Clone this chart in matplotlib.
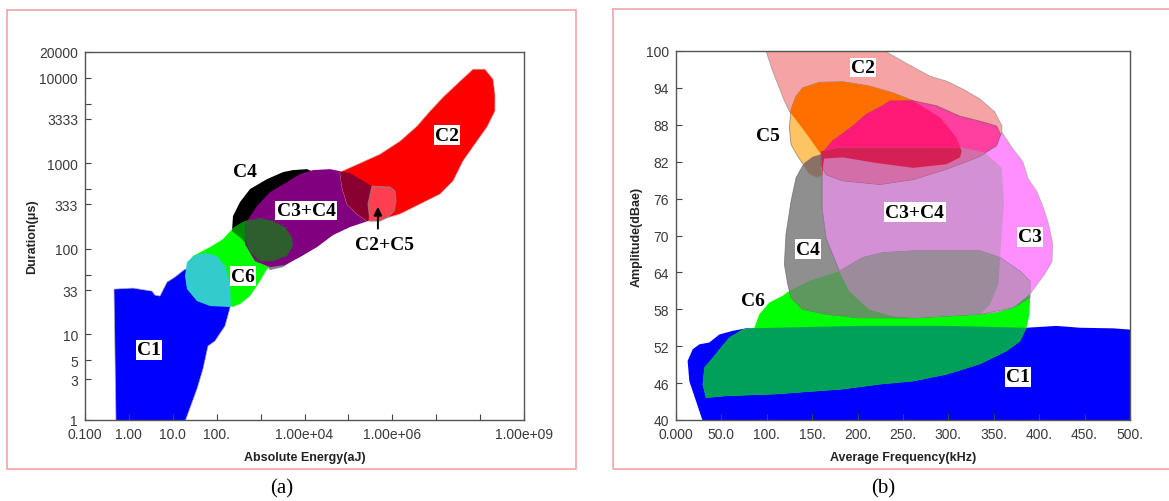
import numpy as np
import matplotlib.pyplot as plt
from matplotlib.patches import Polygon, Rectangle
from matplotlib.ticker import FixedLocator, FixedFormatter, NullLocator

# ---------------- panel (a): log10(energy aJ) / log10(duration us) outlines ----------------
A_C1_LOGE = [-0.339, 0.093, 0.526, 0.595, 0.708, 0.868, 1.050, 1.278, 1.961, 2.303, 2.303,
             2.189, 1.961, 1.802, 1.688, 1.551, 1.278, -0.294]
A_C1_LOGD = [1.530, 1.542, 1.507, 1.460, 1.449, 1.612, 1.671, 1.764, 1.706, 1.414, 1.308,
             1.098, 0.923, 0.864, 0.596, 0.362, -0.02, -0.02]

A_CYAN_LOGE = [1.323, 1.506, 1.779, 2.007, 2.189, 2.303, 2.326, 1.847, 1.551, 1.323, 1.278]
A_CYAN_LOGD = [1.846, 1.928, 1.951, 1.916, 1.799, 1.612, 1.320, 1.332, 1.390, 1.530, 1.682]

A_C6_LOGE = [1.346, 1.460, 1.847, 2.144, 2.371, 2.645, 3.100, 3.442, 3.670, 3.556, 3.146,
             2.986, 2.759, 2.531, 2.349, 2.189, 1.847, 1.392]
A_C6_LOGD = [1.846, 1.916, 2.021, 2.114, 2.243, 2.325, 2.371, 2.301, 2.114, 1.904, 1.764,
             1.624, 1.449, 1.355, 1.320, 1.414, 1.530, 1.706]

A_C4_LOGE = [2.349, 2.371, 2.531, 2.759, 3.146, 3.510, 3.738, 4.057, 4.308, 4.125, 3.784,
             3.624, 3.442, 3.214, 2.872, 2.576]
A_C4_LOGD = [2.208, 2.383, 2.547, 2.699, 2.815, 2.897, 2.921, 2.932, 2.874, 2.582, 2.231,
             1.998, 1.904, 1.857, 1.939, 2.114]

A_GREY_LOGE = [3.169, 3.442, 3.738, 3.715, 3.510, 3.214]
A_GREY_LOGD = [1.787, 1.857, 1.928, 1.857, 1.787, 1.752]

A_C34_LOGE = [2.645, 2.918, 3.214, 3.601, 3.897, 4.194, 4.581, 5.036, 5.538, 5.515, 5.446,
              5.036, 4.649, 4.285, 3.897, 3.556, 3.214, 2.872, 2.645]
A_C34_LOGD = [2.290, 2.500, 2.664, 2.780, 2.874, 2.921, 2.932, 2.886, 2.734, 2.523, 2.325,
              2.255, 2.161, 2.021, 1.904, 1.811, 1.787, 1.857, 2.056]

A_DKG_LOGE = [2.645, 2.986, 3.282, 3.556, 3.715, 3.738, 3.601, 3.282, 2.986, 2.759, 2.645]
A_DKG_LOGD = [2.325, 2.360, 2.325, 2.255, 2.138, 2.033, 1.916, 1.857, 1.857, 1.963, 2.114]

A_C2_LOGE = [4.809, 5.219, 5.720, 6.175, 6.563, 6.859, 7.155, 7.542, 7.838, 8.112, 8.294,
             8.339, 8.339, 8.157, 7.929, 7.610, 7.383, 7.087, 6.631, 6.175, 5.788, 5.538,
             5.424, 5.196, 4.968, 4.854]
A_C2_LOGD = [2.897, 2.991, 3.107, 3.259, 3.435, 3.610, 3.773, 3.960, 4.100, 4.100, 3.984,
             3.808, 3.610, 3.423, 3.259, 3.026, 2.792, 2.640, 2.523, 2.407, 2.348, 2.325,
             2.325, 2.407, 2.523, 2.722]

A_C5_LOGE = [5.538, 5.948, 6.062, 6.084, 6.039, 5.902, 5.720, 5.492, 5.446]
A_C5_LOGD = [2.734, 2.722, 2.675, 2.558, 2.442, 2.371, 2.325, 2.325, 2.523]

A_LABEL_TEXT = ["C1", "C6", "C4", "C3+C4", "C2", "C2+C5"]
A_LABEL_E = [2.87, 397, 441, 1.08e4, 1.76e7, 6.8e5]
A_LABEL_D = [6.6, 48, 811, 280, 2135, 114]
A_LABEL_BOX = [True, True, False, True, True, False]

A_XTICKS = [0.1, 1, 10, 100, 1e3, 1e4, 1e5, 1e6, 1e7, 1e8, 1e9]
A_XTICKLABELS = ["0.100", "1.00", "10.0", "100.", "", "1.00e+04", "", "1.00e+06", "", "", "1.00e+09"]
A_YTICKS = [1, 3, 5, 10, 33, 50, 100, 333, 500, 1000, 3333, 5000, 10000, 20000]
A_YTICKLABELS = ["1", "3", "5", "10", "33", "", "100", "333", "", "1000", "3333", "", "10000", "20000"]

# ---------------- panel (b): frequency kHz / amplitude dB outlines ----------------
B_C1_F = [29, 22, 14.7, 12.8, 18.4, 25.7, 36.7, 47.7, 62.4, 77.1, 200, 300, 386, 419, 445, 482, 500, 500]
B_C1_A = [40, 43.1, 46.3, 49.6, 51.5, 52.3, 52.6, 53.9, 54.5, 54.9, 55.3, 55.3, 55.0, 55.3, 55.0, 54.9, 54.7, 40]

B_C6_F = [86.3, 91.8, 102.8, 117.5, 124.8, 146.8, 179.9, 250, 330, 388, 390, 389, 386, 379, 364, 335,
          298, 261, 224.7, 183.6, 110, 55, 33, 29.4, 31.2, 40.4, 49.6, 58.7, 73.4]
B_C6_A = [55.0, 57.2, 59.1, 60.2, 61.0, 62.6, 64.2, 63, 62, 62, 59.9, 57, 55.0, 52.8, 51.2, 49.1,
          47.4, 46.3, 45.8, 45.0, 44.2, 43.9, 43.6, 45.8, 48.5, 50.1, 51.8, 53.4, 54.7]

B_C3_F = [160, 200, 300, 359, 371, 382, 388, 397.6, 404, 409.7, 414, 415, 414, 406, 390, 371.5, 353.2,
          334.8, 298, 264, 238.6, 212.9, 190.9, 179.9, 165.2, 160.8, 160.8]
B_C3_A = [84, 86, 87, 86.8, 84.1, 82.0, 79.2, 77.1, 74.8, 72.2, 69.4, 68.3, 65.7, 63.7, 60.5, 58.3, 57.5,
          57.2, 56.9, 56.6, 56.9, 58.0, 61.0, 64.2, 69.6, 74.5, 79.4]

B_C34_F = [159.7, 180, 315, 340, 358.7, 361.3, 358.7, 356.9, 355, 345.9, 334.8, 298, 264, 238.6,
           212.9, 190.9, 179.9, 165.2, 160.8, 160.8]
B_C34_A = [83.7, 84.3, 84.3, 83.5, 81.0, 75.3, 70.2, 66.4, 62.1, 58.8, 57.2, 56.9, 56.6, 56.9,
           58.0, 61.0, 64.2, 69.6, 74.5, 79.4]

B_C4_F = [141.3, 150.5, 159.7, 160.8, 160.8, 165.2, 179.9, 205.6, 227.6, 261.4, 334.8, 356.9, 378.9,
          389.9, 389.9, 371.5, 334.8, 298.1, 264.3, 201.9, 165.2, 139.5, 126.7, 123.0, 119.3, 121.1,
          126.7, 132.2]
B_C4_A = [81.8, 82.8, 83.2, 79.4, 74.5, 69.6, 64.2, 66.4, 67.2, 67.5, 67.5, 66.4, 64.2,
          62.6, 59.9, 58.3, 57.2, 56.9, 56.6, 56.6, 57.2, 58.0, 59.9, 62.1, 65.3, 70.2,
          75.6, 79.4]

B_C2_F = [98, 225, 235.7, 261, 279.7, 298, 316, 334.8, 351, 359, 358.7, 330, 250, 190, 159.7, 146.8,
          135.8, 124.8, 119.3, 113.8, 106.5]
B_C2_A = [100.5, 100.5, 99.5, 97.4, 95.9, 95.1, 93.8, 92.2, 90.1, 87.8, 86.5, 86, 86, 85, 83.2, 85.9,
          88.1, 90.2, 91.9, 94.0, 96.7]

B_C5_F = [141.3, 134, 126.7, 124.8, 126.7, 132, 139.5, 157.9, 183.5, 212.9, 238.6, 261.4, 290.8, 309.1,
          314.6, 312.8, 298.1, 261.4, 220.3, 183.6, 163, 160.8, 155, 146.8]
B_C5_A = [81.3, 82.9, 84.8, 87.5, 90.5, 92.6, 94.0, 94.9, 95.0, 94.3, 93.2, 91.9, 89.2, 85.9,
          83.7, 82.7, 81.6, 81.0, 81.8, 82.7, 82.5, 79.8, 79.5, 80.1]

B_P_F = [159.7, 172.5, 194.6, 209.2, 227.6, 235.7, 261.4, 287.1, 312.8, 334.8, 353.2, 357.6, 353.2,
         334.8, 316.5, 298.1, 261.4, 224.7, 183.6, 165.2, 159.7]
B_P_A = [83.2, 85.4, 87.8, 89.7, 91.1, 91.9, 91.9, 91.1, 89.4, 88.6, 87.8, 86.4, 84.6,
         82.9, 81.8, 80.8, 79.1, 78.3, 78.9, 79.9, 81.6]

B_LABEL_TEXT = ["C2", "C5", "C3+C4", "C4", "C3", "C6", "C1"]
B_LABEL_F = [206, 101.3, 263, 145.3, 390, 84.8, 376.6]
B_LABEL_A = [97.3, 86.2, 73.8, 67.8, 69.8, 59.4, 47.0]
B_LABEL_BOX = [True, False, True, True, True, False, True]

B_XTICKS = [0, 50, 100, 150, 200, 250, 300, 350, 400, 450, 500]
B_XTICKLABELS = ["0.000", "50.0", "100.", "150.", "200.", "250.", "300.", "350.", "400.", "450.", "500."]
B_YTICKS = [40, 46, 52, 58, 64, 70, 76, 82, 88, 94, 100]

SANS = "Liberation Sans"
SERIF = "Liberation Serif"


def blob(ax, xs, ys, color, clip=None, edge="none", lw=0.0):
    p = Polygon(np.column_stack([xs, ys]), closed=True, facecolor=color,
                edgecolor=edge, linewidth=lw)
    ax.add_patch(p)
    if clip is not None:
        cp = Polygon(np.column_stack(clip), closed=True, transform=ax.transData)
        p.set_clip_path(cp)
    return p


def style_axes(ax):
    for s in ax.spines.values():
        s.set_color("#555555")
        s.set_linewidth(1.0)
    ax.tick_params(direction="in", length=4, width=0.8, color="#444444",
                   labelcolor="#3a3a3a", labelsize=10, pad=5)
    for t in ax.get_xticklabels() + ax.get_yticklabels():
        t.set_family(SANS)


def put_labels(ax, texts, xs, ys, boxes):
    for t, x, y, b in zip(texts, xs, ys, boxes):
        kw = {}
        if b:
            kw["bbox"] = dict(facecolor="white", edgecolor="none", pad=1.0)
        ax.text(x, y, t, ha="center", va="center", fontsize=14, fontweight="bold",
                family=SERIF, color="black", zorder=6, **kw)


fig = plt.figure(figsize=(11.69, 5.02), dpi=100)

# ---------------- (a) ----------------
axA = fig.add_axes([85 / 1169, 1 - 421 / 502, 439 / 1169, 368 / 502])
axA.set_xscale("log")
axA.set_yscale("log")
axA.set_xlim(0.1, 1e9)
axA.set_ylim(1, 20000)

E = lambda v: 10 ** np.asarray(v)
thin = (0.55, 0.55, 0.55, 0.7)
blob(axA, E(A_C1_LOGE), E(A_C1_LOGD), "#0000FF", edge=(0.7, 0.7, 0.7, 0.8), lw=0.6)
blob(axA, E(A_C4_LOGE), E(A_C4_LOGD), "#000000")
blob(axA, E(A_C6_LOGE), E(A_C6_LOGD), "#00FF00")
blob(axA, E(A_C6_LOGE), E(A_C6_LOGD), "#008A00", clip=(E(A_C4_LOGE), E(A_C4_LOGD)))
blob(axA, E(A_GREY_LOGE), E(A_GREY_LOGD), "#858585")
blob(axA, E(A_CYAN_LOGE), E(A_CYAN_LOGD), "#33CCCC")
blob(axA, E(A_C34_LOGE), E(A_C34_LOGD), "#800080")
blob(axA, E(A_DKG_LOGE), E(A_DKG_LOGD), "#2E5E2E")
blob(axA, E(A_C2_LOGE), E(A_C2_LOGD), "#FF0000", edge=(0.8, 0.7, 0.7, 0.8), lw=0.6)
blob(axA, E(A_C2_LOGE), E(A_C2_LOGD), "#8A0030", clip=(E(A_C34_LOGE), E(A_C34_LOGD)))
blob(axA, E(A_C5_LOGE), E(A_C5_LOGD), "#FF4050", edge=thin, lw=0.8)

put_labels(axA, A_LABEL_TEXT, A_LABEL_E, A_LABEL_D, A_LABEL_BOX)
axA.annotate("", xy=(4.7e5, 334), xytext=(4.7e5, 160),
             arrowprops=dict(arrowstyle="-|>", color="black", lw=1.4, mutation_scale=12),
             zorder=7)

axA.xaxis.set_major_locator(FixedLocator(A_XTICKS))
axA.xaxis.set_major_formatter(FixedFormatter(A_XTICKLABELS))
axA.xaxis.set_minor_locator(NullLocator())
axA.yaxis.set_major_locator(FixedLocator(A_YTICKS))
axA.yaxis.set_major_formatter(FixedFormatter(A_YTICKLABELS))
axA.yaxis.set_minor_locator(NullLocator())
axA.tick_params(top=False, right=False)
style_axes(axA)
axA.set_xlabel("Absolute Energy(aJ)", fontsize=9, fontweight="bold", family=SANS,
               color="#222222", labelpad=7)
axA.set_ylabel("Duration(μs)", fontsize=9, fontweight="bold", family=SANS,
               color="#222222", labelpad=1)

# ---------------- (b) ----------------
axB = fig.add_axes([676 / 1169, 1 - 421 / 502, 454 / 1169, 369 / 502])
axB.set_xlim(0, 500)
axB.set_ylim(40, 100)

edge = (0.35, 0.35, 0.35, 0.6)
c1 = (B_C1_F, B_C1_A)
c6 = (B_C6_F, B_C6_A)
c3 = (B_C3_F, B_C3_A)
c34 = (B_C34_F, B_C34_A)
c4 = (B_C4_F, B_C4_A)
c2 = (B_C2_F, B_C2_A)
c5 = (B_C5_F, B_C5_A)

blob(axB, *c1, "#0000FF")
blob(axB, *c6, "#00FF00")
blob(axB, *c6, "#00A05A", clip=c1)
blob(axB, *c3, "#FF8EFF", edge=(0.6, 0.6, 0.6, 0.6), lw=0.6)
blob(axB, *c34, "#D490D4")
blob(axB, *c4, "#8F8F8F", edge=edge, lw=0.6)
blob(axB, *c4, "#5E985E", clip=c6)
blob(axB, *c4, "#C68CC6", clip=c3)
blob(axB, *c4, "#9B8B9B", clip=c34)
blob(axB, *c2, "#F6A3A3", edge=(0.55, 0.55, 0.55, 0.7), lw=0.6)
blob(axB, *c5, "#FFC462", edge=edge, lw=0.6)
blob(axB, *c5, "#FF6F00", clip=c2)
blob(axB, *c5, "#8C7066", clip=c4)
blob(axB, B_P_F, B_P_A, "#FF40A0", edge=edge, lw=0.6)
blob(axB, B_P_F, B_P_A, "#FF1A78", clip=c5)
blob(axB, B_P_F, B_P_A, "#D46EA8", clip=c34)
blob(axB, *c5, "#D42052", clip=c34)

put_labels(axB, B_LABEL_TEXT, B_LABEL_F, B_LABEL_A, B_LABEL_BOX)

axB.xaxis.set_major_locator(FixedLocator(B_XTICKS))
axB.xaxis.set_major_formatter(FixedFormatter(B_XTICKLABELS))
axB.yaxis.set_major_locator(FixedLocator(B_YTICKS))
axB.yaxis.set_major_formatter(FixedFormatter([str(v) for v in B_YTICKS]))
axB.tick_params(top=False, right=False)
style_axes(axB)
axB.set_xlabel("Average Frequency(kHz)", fontsize=9, fontweight="bold", family=SANS,
               color="#222222", labelpad=7)
axB.set_ylabel("Amplitude(dBae)", fontsize=9, fontweight="bold", family=SANS,
               color="#222222", labelpad=2)

# pink panel frames and captions
frame_c = "#F4A3A3"
fig.add_artist(Rectangle((7 / 1169, 1 - 470 / 502), 569 / 1169, 459 / 502,
                         transform=fig.transFigure, fill=False, ec=frame_c, lw=1.2))
fig.add_artist(Rectangle((613 / 1169, 1 - 470 / 502), 600 / 1169, 460 / 502,
                         transform=fig.transFigure, fill=False, ec=frame_c, lw=1.2))
fig.text(282 / 1169, 1 - 489 / 502, "(a)", ha="center", va="center", family=SERIF, fontsize=15)
fig.text(883 / 1169, 1 - 489 / 502, "(b)", ha="center", va="center", family=SERIF, fontsize=15)

fig.savefig("out.png", dpi=100)
